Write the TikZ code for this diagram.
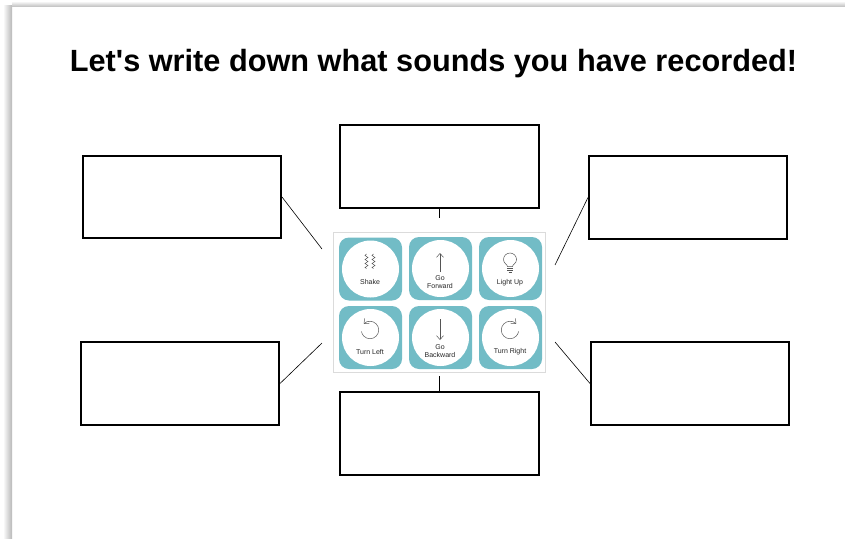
\documentclass[tikz,border=0pt]{standalone}
\usepackage{fontspec}
\setmainfont{Liberation Sans}
\usetikzlibrary{arrows.meta,positioning,shadows}
\definecolor{tealtile}{HTML}{72BCC6}
\definecolor{icongray}{HTML}{555555}
\tikzset{
  answerbox/.style={draw=black,line width=2pt,minimum width=198pt,minimum height=83pt,inner sep=0pt},
  tile/.style={fill=tealtile,rounded corners=10pt,minimum width=63pt,minimum height=63pt,inner sep=0pt},
  disc/.style={circle,fill=white,minimum size=57pt,inner sep=0pt},
  caption/.style={font=\fontsize{7}{8}\selectfont,align=center,text=black!85,inner sep=0pt},
  icon/.style={icongray,line width=0.5pt,>={Straight Barb[length=4pt,width=7pt]}},
  link/.style={black,line width=0.6pt}
}
\begin{document}
\begin{tikzpicture}[x=1pt,y=-1pt]
\useasboundingbox (0,0) rectangle (845,538);
%page edge
\shade[left color=white,right color=black!28] (3,5) rectangle (12,538);
\shade[top color=white,bottom color=black!22] (12,1) rectangle (845,6);
%title
\node (title) at (433.5,63.5) [font=\fontsize{30.7}{34}\selectfont\bfseries] {Let\textquotesingle s write down what sounds you have recorded!};
%answer boxes
\node[answerbox,minimum height=82pt] (boxa) at (182,197) {};
\node[answerbox,minimum width=199pt] (boxb) at (439.5,166.5) {};
\node[answerbox] (boxc) at (688,197.5) {};
\node[answerbox] (boxd) at (180,383.5) {};
\node[answerbox,minimum width=199pt] (boxe) at (439.5,433.5) {};
\node[answerbox] (boxf) at (690,383.5) {};
%panel with the six tiles
\node (panel) at (439,302) [fill=white,draw=black!14,line width=1pt,minimum width=212pt,minimum height=140pt,inner sep=0pt,
  drop shadow={shadow xshift=0.8pt,shadow yshift=-0.8pt,opacity=0.2,fill=black}] {};
\foreach \x/\y/\n in {370.5/269/1,440.5/268.5/2,510.5/268.5/3,370.5/337.5/4,440.5/337.5/5,510.5/337.5/6}
{
\node[tile] (tile\n) at (\x,\y) {};
\node[disc] (disc\n) at (\x,\y) {};
}
%labels
\node[caption] (shake) at (370,282) {Shake};
\node[caption] (forward) at (440,282) {Go\\Forward};
\node[caption] (light) at (510,282.5) {Light Up};
\node[caption] (left) at (370,351.5) {Turn Left};
\node[caption] (backward) at (440,351) {Go\\Backward};
\node[caption] (right) at (510,351.5) {Turn Right};
%shake icon
\foreach \x in {366.5,373.5}
\draw[icon] (\x,254) -- ++(-1.5,1.5) -- ++(3,2) -- ++(-3,2) -- ++(3,2) -- ++(-3,2) -- ++(3,2) -- ++(-3,2) -- ++(1.5,1);
%arrows
\draw[icon,->] (440,272) -- (440,253);
\draw[icon,->] (440,319) -- (440,340);
%bulb
\draw[icon] (507.5,266.5) .. controls (507.5,264.5) and (503.5,263.5) .. (503.5,259.5) arc (180:360:6.5) .. controls (516.5,263.5) and (512.5,264.5) .. (512.5,266.5) -- cycle;
\draw[icon] (507,268.5) -- (513,268.5);
\draw[icon] (507,270.5) -- (513,270.5);
\draw[icon] (508.5,272.5) -- (511.5,272.5);
%turn icons
\draw[icon,<-] (370,330) ++(-135:8.7) arc (-135:170:8.7);
\draw[icon,<-] (510,330) ++(-45:8.7) arc (-45:-350:8.7);
%connector ends
\coordinate (enda) at (322,249);
\coordinate (endb) at (439.5,218);
\coordinate (endc) at (555,265);
\coordinate (endd) at (322,343);
\coordinate (ende) at (439.5,376);
\coordinate (endf) at (555,342);
\draw[link] (boxa.east) -- (enda);
\draw[link] (boxb.south) -- (endb);
\draw[link] (boxc.west) -- (endc);
\draw[link] (boxd.east) -- (endd);
\draw[link] (boxe.north) -- (ende);
\draw[link] (boxf.west) -- (endf);
\end{tikzpicture}
\end{document}
